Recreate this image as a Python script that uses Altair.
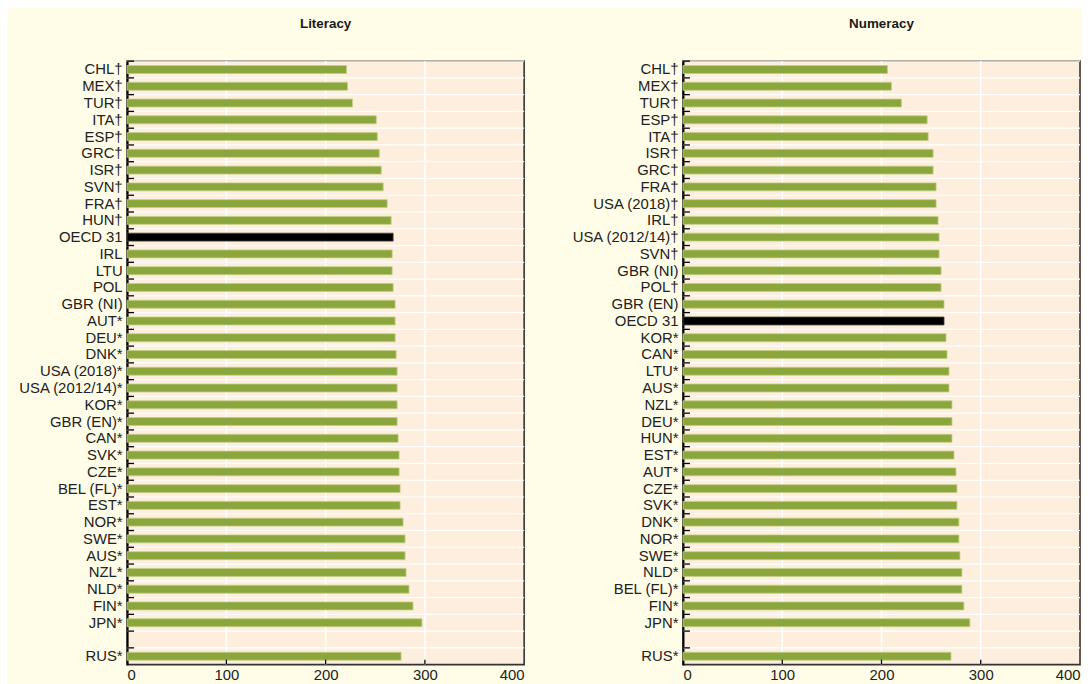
import altair as alt
import pandas as pd

lit_labels = ["CHL†", "MEX†", "TUR†", "ITA†", "ESP†", "GRC†", "ISR†", "SVN†", "FRA†", "HUN†",
              "OECD 31", "IRL", "LTU", "POL", "GBR (NI)", "AUT*", "DEU*", "DNK*", "USA (2018)*",
              "USA (2012/14)*", "KOR*", "GBR (EN)*", "CAN*", "SVK*", "CZE*", "BEL (FL)*", "EST*",
              "NOR*", "SWE*", "AUS*", "NZL*", "NLD*", "FIN*", "JPN*", " ", "RUS*"]
lit_values = [221, 222, 227, 251, 252, 254, 256, 258, 262, 266,
               268, 267, 267, 268, 270, 270, 270, 271, 272,
               272, 272, 272, 273, 274, 274, 275, 275,
               278, 280, 280, 281, 284, 288, 297, None, 276]

num_labels = ["CHL†", "MEX†", "TUR†", "ESP†", "ITA†", "ISR†", "GRC†", "FRA†", "USA (2018)†", "IRL†",
              "USA (2012/14)†", "SVN†", "GBR (NI)", "POL†", "GBR (EN)", "OECD 31", "KOR*", "CAN*",
              "LTU*", "AUS*", "NZL*", "DEU*", "HUN*", "EST*", "AUT*", "CZE*", "SVK*", "DNK*",
              "NOR*", "SWE*", "NLD*", "BEL (FL)*", "FIN*", "JPN*", " ", "RUS*"]
num_values = [206, 210, 220, 246, 247, 252, 252, 255, 255, 257,
              258, 258, 260, 260, 263, 263, 265, 266,
              268, 268, 271, 271, 271, 273, 275, 276, 276, 278,
              278, 279, 281, 281, 283, 289, None, 270]

x_ticks = [0, 100, 200, 300, 400]
inner_grid = [100, 200, 300]

W, H = 400, 608
FONT = "Liberation Sans"
GREEN = "#8AA63C"


def panel(labels, values, title):
    df = pd.DataFrame({"cat": labels, "val": values,
                       "oecd": [l == "OECD 31" for l in labels]})
    gdf = pd.DataFrame({"v": inner_grid})
    ysc = alt.Scale(type="band", domain=labels, paddingInner=0, paddingOuter=0)
    xsc = alt.Scale(domain=[0, 400], nice=False, zero=True)
    yax = alt.Axis(title=None, ticks=False, domain=True, domainColor="black", domainWidth=2,
                   labelFontSize=15, labelFont=FONT, labelColor="#222222", labelPadding=5,
                   minExtent=112, maxExtent=112, grid=False, labelLimit=200)
    xax = alt.Axis(title=None, values=x_ticks, ticks=False, domain=False, grid=False,
                   labelFontSize=15, labelFont=FONT, labelColor="#222222", labelPadding=3,
                   format="d")
    base = alt.Chart(df)
    hgrid = base.mark_rule(color="white", strokeWidth=1.2).encode(
        y=alt.Y("cat:N", scale=ysc, bandPosition=0, axis=yax),
        x=alt.value(0), x2=alt.value(W))
    vgrid = alt.Chart(gdf).mark_rule(color="white", strokeWidth=1.5).encode(
        x=alt.X("v:Q", scale=xsc, axis=xax), y=alt.value(0), y2=alt.value(H))
    bars = base.mark_bar(size=8, strokeWidth=0.8).encode(
        x=alt.X("val:Q", scale=xsc, axis=xax),
        y=alt.Y("cat:N", scale=ysc, axis=yax),
        color=alt.condition("datum.oecd", alt.value("#000000"), alt.value(GREEN)),
        stroke=alt.condition("datum.oecd", alt.value("#444444"), alt.value("#C3CF86")))
    yticks = base.mark_rule(color="black", strokeWidth=1.3).encode(
        y=alt.Y("cat:N", scale=ysc, bandPosition=0, axis=yax),
        x=alt.value(0), x2=alt.value(7))
    xticks = alt.Chart(gdf).mark_rule(color="black", strokeWidth=1.3).encode(
        x=alt.X("v:Q", scale=xsc, axis=xax), y=alt.value(H), y2=alt.value(H - 5))
    return alt.layer(hgrid, vgrid, bars, yticks, xticks).properties(
        width=W, height=H,
        title=alt.TitleParams(title, fontSize=13.5, fontWeight="bold", font=FONT,
                              color="#1a1a1a", offset=30))


chart = alt.hconcat(
    panel(lit_labels, lit_values, "Literacy"),
    panel(num_labels, num_values, "Numeracy"),
    spacing=44,
).properties(
    padding={"left": 7, "top": 5, "right": 0, "bottom": 0},
    background="#FFFDE8",
).configure_view(
    fill="#FDEEDD", stroke="#333333", strokeWidth=1.6
)

chart.save("out.html", embed_options={"renderer": "svg", "actions": False})
